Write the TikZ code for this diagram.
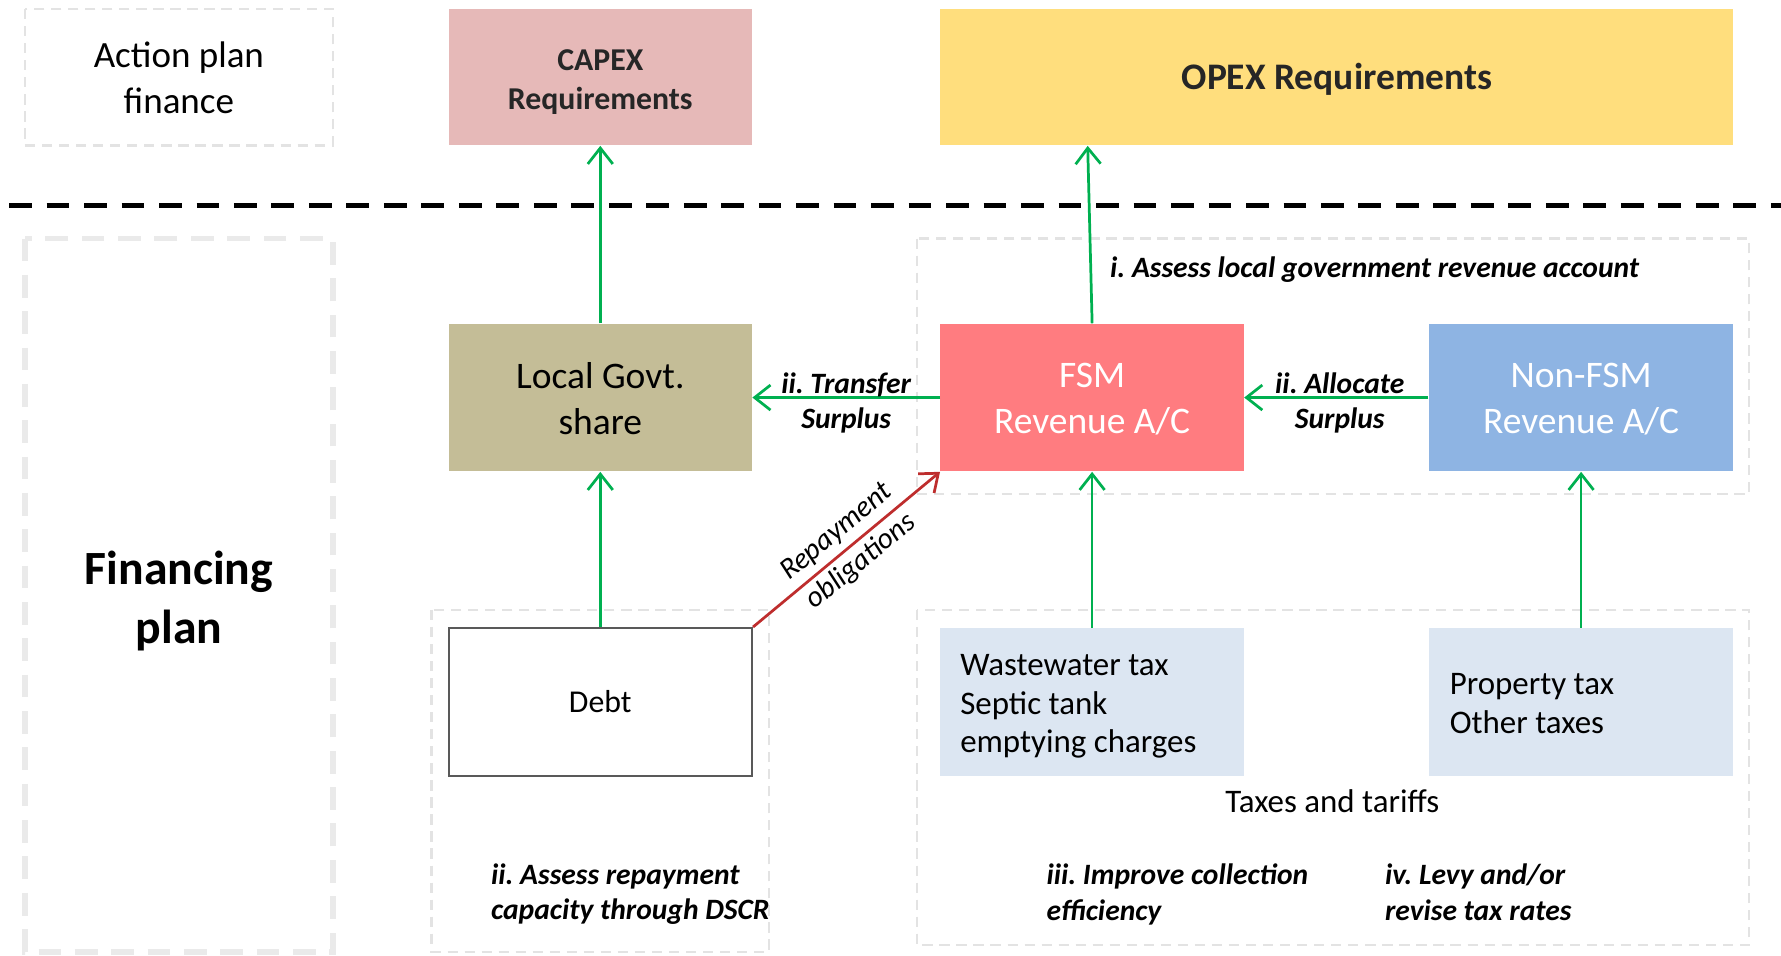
\documentclass[tikz,border=0pt]{standalone}
\usepackage{fontspec}
\setmainfont{Carlito}
\usetikzlibrary{arrows.meta,calc}
\frenchspacing
\definecolor{capex}{HTML}{E6B9B8}
\definecolor{opex}{HTML}{FFDE7D}
\definecolor{lgs}{HTML}{C4BD97}
\definecolor{fsm}{HTML}{FF7C80}
\definecolor{nonfsm}{HTML}{8EB4E3}
\definecolor{taxbox}{HTML}{DCE6F2}
\definecolor{arrgreen}{HTML}{00B050}
\definecolor{arrred}{HTML}{BE2D2D}
\definecolor{dashgrey}{HTML}{E3E3E3}
\definecolor{thickgrey}{HTML}{EAEAEA}
\definecolor{darktext}{HTML}{262626}
\definecolor{debtborder}{HTML}{595959}
\begin{document}
\begin{tikzpicture}[x=0.5pt,y=-0.5pt,
  box/.style={rectangle, inner sep=0pt, minimum width=133.5pt, minimum height=65pt, align=center},
  topbox/.style={box, minimum height=60pt},
  bigtxt/.style={font=\fontsize{16.5}{20}\selectfont},
  midtxt/.style={font=\fontsize{14.5}{17}\selectfont},
  lbl/.style={font=\fontsize{13}{15.5}\selectfont\bfseries\itshape},
  slbl/.style={font=\fontsize{13}{17}\selectfont\itshape},
  thindash/.style={draw=dashgrey, line width=1pt, dash pattern=on 4.5pt off 3pt},
  thickdash/.style={draw=thickgrey, line width=2.5pt, dash pattern=on 10pt off 6pt},
  garrow/.style={draw=arrgreen, line width=1.2pt, -{Straight Barb[length=7pt,width=11pt]}},
  rarrow/.style={draw=arrred, line width=1.2pt, -{Straight Barb[length=7pt,width=11pt]}}
]
\useasboundingbox (0,0) rectangle (1568,841);
\fill[white] (0,0) rectangle (1568,841);

% containers
\draw[thindash] (22,8) rectangle (293,128);
\draw[thickdash] (22,210) rectangle (293,838);
\draw[thindash] (807,210) rectangle (1540,435);
\draw[thindash] (380,537) rectangle (677,838);
\draw[thindash] (807,537) rectangle (1540,832);

% separator
\draw[line width=2pt, dash pattern=on 10pt off 6.5pt] (8,181) -- (1568,181);

% top row
\node[font=\fontsize{16.3}{20}\selectfont, align=center] (apf) at (157.5,68.5) {Action plan\\finance};
\node[topbox, fill=capex] (capex) at (528.5,68) {};
\node[text=darktext, font=\fontsize{14}{17}\selectfont\bfseries, align=center] (capextxt) at (528.5,72) {CAPEX\\Requirements};
\node[topbox, fill=opex, minimum width=349pt] (opex) at (1177,68) {};
\node[text=darktext, font=\fontsize{16.5}{20}\selectfont\bfseries] (opextxt) at (1177,70) {OPEX Requirements};

% financing plan
\node[font=\fontsize{21}{26}\selectfont\bfseries, align=center] (fin) at (157.5,529) {Financing\\plan};

% middle row
\node[box, fill=lgs] (lgs) at (528.5,350) {};
\node[bigtxt, align=center] (lgstxt) at (528.5,351) {Local Govt.\\share};
\node[box, fill=fsm] (fsm) at (961.5,350) {};
\node[bigtxt, align=center, text=white] (fsmtxt) at (961.5,351.5) {FSM\\Revenue A/C};
\node[box, fill=nonfsm, minimum width=134pt] (nonfsm) at (1392,350) {};
\node[bigtxt, align=center, text=white] (nonfsmtxt) at (1392,351.5) {Non-FSM\\Revenue A/C};

% bottom row
\node[box, draw=debtborder, line width=1pt, fill=white, font=\fontsize{14}{17}\selectfont] (debt) at (528.5,618) {Debt};
\node[box, fill=taxbox] (ww) at (961.5,618) {};
\node[midtxt, align=left, anchor=west, inner sep=0pt] (wwtxt) at (845,622) {Wastewater tax\\Septic tank\\emptying charges};
\node[box, fill=taxbox, minimum width=134pt] (prop) at (1392,618) {};
\node[midtxt, align=left, anchor=west, inner sep=0pt] (proptxt) at (1276,619.5) {Property tax\\Other taxes};

% labels
\node[lbl, anchor=west, inner sep=0pt] (assessrev) at (977,237) {i. Assess local government revenue account};
\node[midtxt] (taxes) at (1173,705) {Taxes and tariffs};
\node[lbl, anchor=west, align=left, inner sep=0pt] (assessdebt) at (432,787.5) {ii. Assess repayment\\capacity through DSCR};
\node[lbl, anchor=west, align=left, inner sep=0pt] (improve) at (921,787.5) {iii. Improve collection\\efficiency};
\node[lbl, anchor=west, align=left, inner sep=0pt] (levy) at (1219,785.5) {iv. Levy and/or\\revise tax rates};

% connectors
\draw[garrow] (lgs.north) -- (capex.south);
\draw[garrow] (fsm.north) -- ([xshift=65pt]opex.south west);
\draw[garrow] (fsm.west) -- node[lbl, align=center, yshift=-2.25pt] {ii. Transfer\\Surplus} (lgs.east);
\draw[garrow] (nonfsm.west) -- node[lbl, align=center, yshift=-2.25pt, xshift=1.5pt] {ii. Allocate\\Surplus} (fsm.east);
\draw[garrow] (debt.north) -- (lgs.south);
\draw[garrow] (ww.north) -- (fsm.south);
\draw[garrow] (prop.north) -- (nonfsm.south);
\draw[rarrow] (debt.north east) -- node[slbl, sloped, align=center, xshift=1.5pt] {Repayment\\obligations} (fsm.south west);
\end{tikzpicture}
\end{document}
